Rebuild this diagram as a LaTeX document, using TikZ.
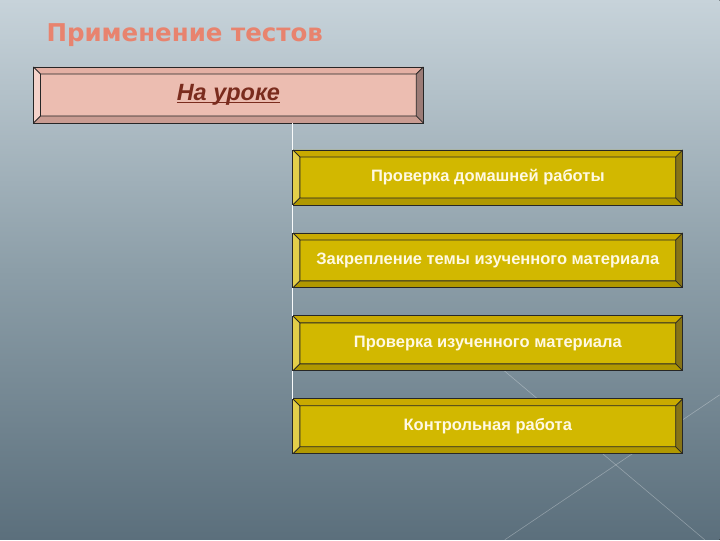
\documentclass[tikz,border=0pt]{standalone}
\usepackage{fontspec}
\setmainfont{Liberation Sans}
\newfontfamily\headfont{DejaVu Sans}
\usepackage{tikz}
\usetikzlibrary{positioning}
\usetikzlibrary{calc}

\newsavebox\ulinebox
\newcommand\lineunder[1]{\sbox\ulinebox{#1}\rlap{\usebox\ulinebox}\rule[-2.5pt]{\wd\ulinebox}{1.4pt}}

\definecolor{bgtop}{HTML}{C7D3DA}
\definecolor{bgmid}{HTML}{8C9EA8}
\definecolor{bgbot}{HTML}{5B6F7C}
\definecolor{titlecol}{HTML}{E8836E}
\definecolor{pinkface}{HTML}{ECBDB1}
\definecolor{pinktop}{HTML}{E4B0A4}
\definecolor{pinkleft}{HTML}{F4D2CA}
\definecolor{pinkbot}{HTML}{C99C92}
\definecolor{pinkright}{HTML}{9C7C77}
\definecolor{lessontext}{HTML}{7A2C1E}
\definecolor{goldface}{HTML}{D2B800}
\definecolor{goldtop}{HTML}{C9AA00}
\definecolor{goldleft}{HTML}{E3CE4A}
\definecolor{goldbot}{HTML}{B09800}
\definecolor{goldright}{HTML}{877415}
\definecolor{boxtext}{HTML}{FFF9E2}

\tikzset{
  bevel/.style n args={5}{
    fill=#1, draw=black!85, line width=0.8pt, inner sep=0pt, outer sep=0pt,
    path picture={
      \coordinate (pnw) at (path picture bounding box.north west);
      \coordinate (pne) at (path picture bounding box.north east);
      \coordinate (psw) at (path picture bounding box.south west);
      \coordinate (pse) at (path picture bounding box.south east);
      \coordinate (qnw) at ($(pnw)+(7pt,-7pt)$);
      \coordinate (qne) at ($(pne)+(-7pt,-7pt)$);
      \coordinate (qsw) at ($(psw)+(7pt,7pt)$);
      \coordinate (qse) at ($(pse)+(-7pt,7pt)$);
      \fill[#2] (pnw) -- (pne) -- (qne) -- (qnw) -- cycle;
      \fill[#3] (pnw) -- (qnw) -- (qsw) -- (psw) -- cycle;
      \fill[#4] (psw) -- (qsw) -- (qse) -- (pse) -- cycle;
      \fill[#5] (pne) -- (pse) -- (qse) -- (qne) -- cycle;
      \draw[black!85, line width=0.8pt] (qnw) rectangle (qse)
        (pnw) -- (qnw) (pne) -- (qne) (psw) -- (qsw) (pse) -- (qse);
    }},
  lessonbox/.style={bevel={pinkface}{pinktop}{pinkleft}{pinkbot}{pinkright},
    minimum width=390pt, minimum height=56pt,
    text=lessontext, font=\fontsize{23.5}{27}\selectfont\bfseries\itshape},
  taskbox/.style={bevel={goldface}{goldtop}{goldleft}{goldbot}{goldright},
    minimum width=390pt, minimum height=55pt,
    text=boxtext, font=\fontsize{16.5}{19}\selectfont\bfseries},
  link/.style={draw=white!90!bgtop, line width=0.9pt},
  deco/.style={draw=white, opacity=0.3, line width=0.6pt}
}

\begin{document}
\begin{tikzpicture}[x=1pt,y=-1pt]
  % background
  \fill[top color=bgtop, bottom color=bgbot, middle color=bgmid] (0,0) rectangle (720,540);
  \draw[deco] (450,325) -- (705,540);
  \draw[deco] (505,540) -- (720,395);

  \node[anchor=west, text=titlecol, font=\headfont\fontsize{24.5}{28}\selectfont\bfseries]
    at (43,35) (title) {Применение тестов};

  \node[lessonbox] at (228.5,95) (lesson) {\lineunder{На уроке}};

  \node[taskbox] at (488,177.5) (check) {Проверка домашней работы};
  \node[taskbox, below=28pt of check] (fix) {Закрепление темы изученного материала};
  \node[taskbox, below=28pt of fix] (verify) {Проверка изученного материала};
  \node[taskbox, below=28pt of verify] (exam) {Контрольная работа};

  \draw[link] (lesson.south -| check.west) -- (check.north west);
  \foreach \a/\b in {check/fix, fix/verify, verify/exam}
    \draw[link] (\a.south west) -- (\b.north west);
\end{tikzpicture}
\end{document}
